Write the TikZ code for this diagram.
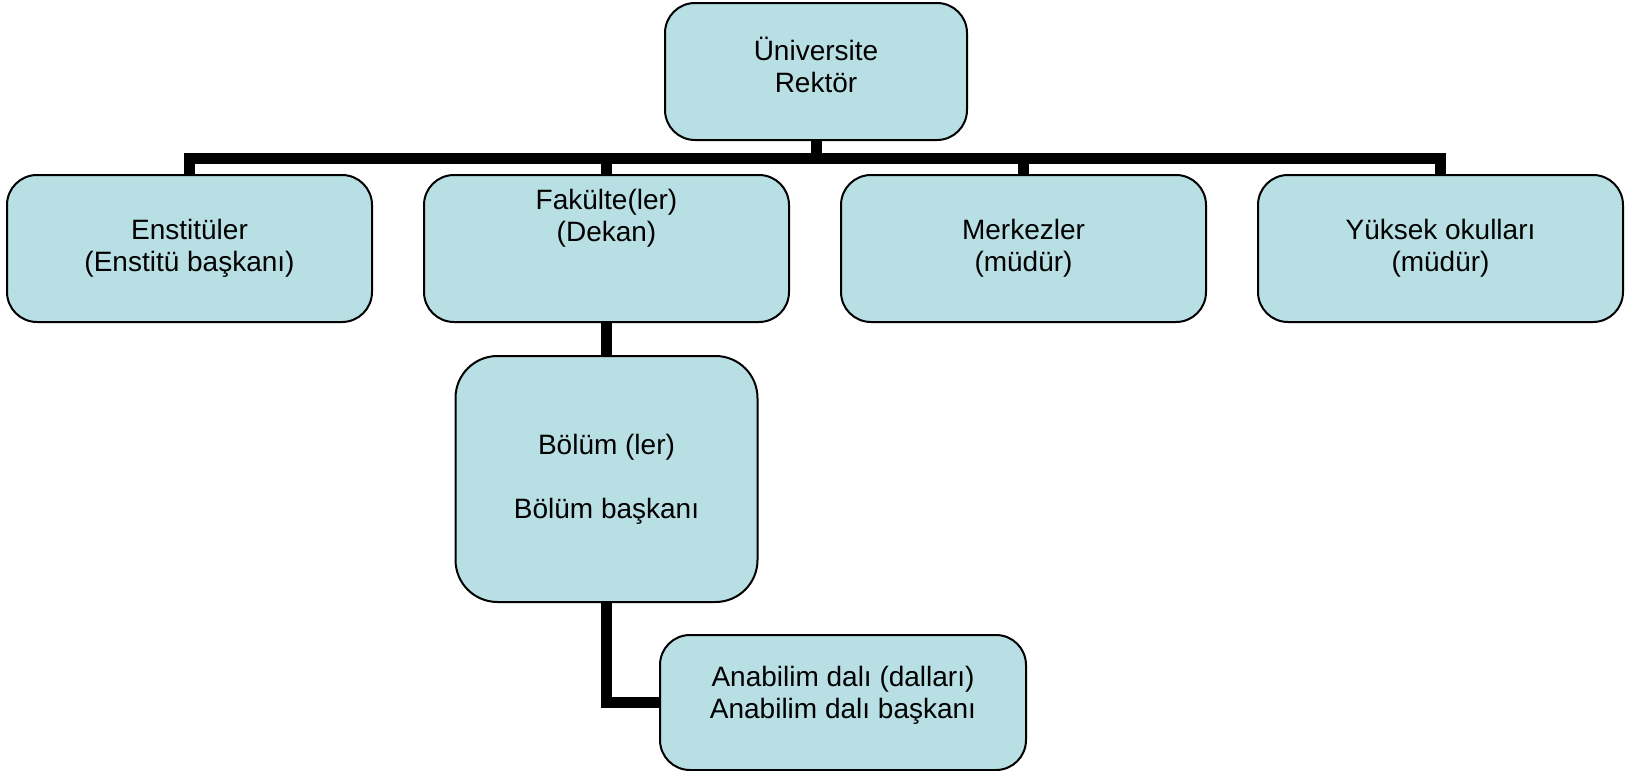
\documentclass[tikz,border=0pt]{standalone}
\usepackage{fontspec}
\setmainfont{Liberation Sans}
\usepackage{xcolor}
\usetikzlibrary{positioning}

\definecolor{boxfill}{RGB}{184,223,227}

\begin{document}
\begin{tikzpicture}[x=0.5pt, y=-0.5pt, font=\fontsize{14}{16}\selectfont]
    % Define the style for the nodes
    \tikzstyle{unit} = [rectangle, draw, line width=1pt, fill=boxfill, align=center, rounded corners=15pt, minimum width=182.5pt, minimum height=73.5pt, inner sep=0pt]
    \tikzstyle{link} = [draw, line width=5.5pt, line join=miter]

    \useasboundingbox (0,0) rectangle (1630,771);

    % Place the nodes
    \node [unit, minimum width=151pt, minimum height=68.5pt, text depth=6.8pt] (rektor) at (816,71.5) {Üniversite\\Rektör};
    \node [unit] (enstitu) at (189.5,248.5) {Enstitüler\\(Enstitü başkanı)};
    \node [unit, right=25pt of enstitu, text depth=32.8pt] (fakulte) {Fakülte(ler)\\(Dekan)};
    \node [unit, right=25pt of fakulte] (merkez) {Merkezler\\(müdür)};
    \node [unit, right=25pt of merkez] (yuksek) {Yüksek okulları\\(müdür)};
    \node [unit, below=16pt of fakulte, minimum width=151pt, minimum height=123pt, rounded corners=21pt] (bolum) {Bölüm (ler)\\[16pt]Bölüm başkanı};
    \node [unit, minimum width=183pt, minimum height=67.5pt, text depth=10pt] (anabilim) at (843,702.5) {Anabilim dalı (dalları)\\Anabilim dalı başkanı};

    % Connect the nodes with paths
    \coordinate (bus) at (816,158);
    \path [link] (rektor.south) -- (bus);
    \path [link] (enstitu.north) |- (bus) -| (yuksek.north);
    \path [link] (fakulte.north) -- (fakulte.north |- bus);
    \path [link] (merkez.north) -- (merkez.north |- bus);
    \path [link] (fakulte.south) -- (bolum.north);
    \path [link] (bolum.south) |- (anabilim.west);
\end{tikzpicture}
\end{document}
